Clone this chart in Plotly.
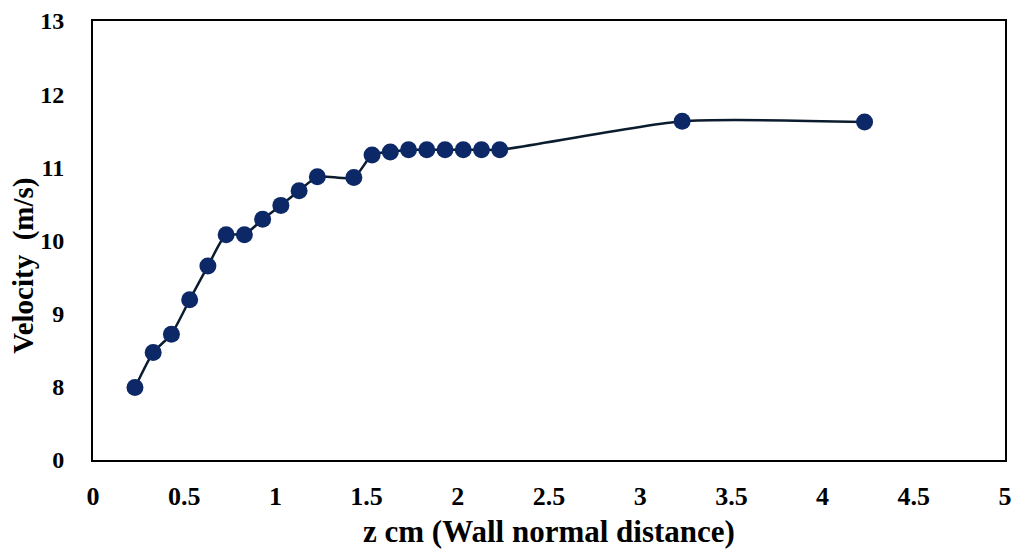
import plotly.graph_objects as go

# Wall-normal distance (cm) and measured velocity (m/s)
z_cm = [0.23, 0.33, 0.43, 0.53, 0.63, 0.73, 0.83, 0.93, 1.03, 1.13, 1.23,
        1.43, 1.53, 1.63, 1.73, 1.83, 1.93, 2.03, 2.13, 2.23, 3.23, 4.23]
velocity = [7.99, 8.47, 8.72, 9.19, 9.65, 10.08, 10.08, 10.29, 10.48, 10.68, 10.87,
            10.86, 11.17, 11.21, 11.24, 11.24, 11.24, 11.24, 11.24, 11.24, 11.63, 11.62]

# Broken y-axis: the baseline is labelled 0, then 8..13
y_tick_vals = [7, 8, 9, 10, 11, 12, 13]
y_tick_text = ["0", "8", "9", "10", "11", "12", "13"]
x_tick_vals = [0, 0.5, 1, 1.5, 2, 2.5, 3, 3.5, 4, 4.5, 5]
x_tick_text = ["0", "0.5", "1", "1.5", "2", "2.5", "3", "3.5", "4", "4.5", "5"]

x_title = "z cm (Wall normal distance)"
y_title = "Velocity\u00a0\u00a0(m/s)"

font_family = "Liberation Serif, Times New Roman, serif"

fig = go.Figure()
fig.add_trace(go.Scatter(
    x=z_cm, y=velocity,
    mode="lines+markers",
    line=dict(color="#0b1c2e", width=2.5, shape="spline", smoothing=0.6),
    marker=dict(color="#0c2866", size=17, line=dict(width=0)),
    showlegend=False,
))

fig.update_layout(
    width=1017, height=550,
    margin=dict(l=93, r=12, t=21, b=90),
    paper_bgcolor="white", plot_bgcolor="white",
    font=dict(family=font_family, color="black"),
    xaxis=dict(
        range=[0, 5], automargin=False,
        tickvals=x_tick_vals, ticktext=x_tick_text,
        tickfont=dict(size=26, family=font_family, weight="bold"),
        showgrid=False, zeroline=False,
        showline=True, linecolor="black", linewidth=2, mirror=True,
        ticks="", ticklabelstandoff=12,
    ),
    yaxis=dict(
        range=[7, 13], automargin=False,
        tickvals=y_tick_vals, ticktext=y_tick_text,
        tickfont=dict(size=24, family=font_family, weight="bold"),
        showgrid=False, zeroline=False,
        showline=True, linecolor="black", linewidth=2, mirror=True,
        ticks="", ticklabelstandoff=22,
    ),
    annotations=[
        dict(text="<b>" + x_title + "</b>", xref="paper", yref="paper",
             x=0.5, y=-0.164, xanchor="center", yanchor="middle",
             showarrow=False, font=dict(size=31, family=font_family)),
        dict(text="<b>" + y_title + "</b>", xref="paper", yref="paper",
             x=-0.076, y=0.442, xanchor="center", yanchor="middle",
             textangle=-90, showarrow=False,
             font=dict(size=29, family=font_family)),
    ],
)

fig.write_html("out.html")
